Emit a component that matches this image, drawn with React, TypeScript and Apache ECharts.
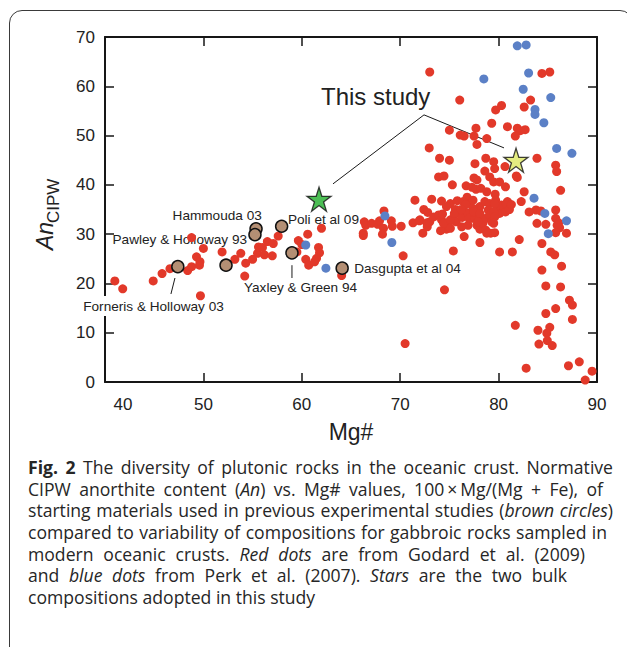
import React, { useEffect, useLayoutEffect, useRef } from "react";
import * as echarts from "echarts";

const FONT = '"Liberation Sans", Arial, Helvetica, sans-serif';

// Axis ranges (Mg# on x, normative An on y)
const mgRange = [40, 90];
const anRange = [0, 70];
const tickStep = 10;

// Gabbroic rocks, Godard et al. (2009): [Mg#, An]
const godardRed: number[][] = [
  [41.0, 20.5], [41.8, 18.9], [44.9, 20.5], [45.8, 22.0], [46.6, 23.0], [48.4, 22.6], [48.8, 23.4],
  [48.8, 29.3], [49.3, 25.4], [49.65, 24.4], [49.6, 23.7], [50.0, 27.1], [49.7, 17.5], [51.9, 26.4],
  [53.2, 24.9], [53.8, 26.1], [54.3, 24.1], [54.2, 21.5], [55.0, 24.9], [55.5, 26.1], [55.6, 27.4],
  [56.0, 27.3], [56.2, 25.8], [56.5, 28.5], [57.0, 25.6], [57.1, 28.1], [57.6, 29.6], [59.65, 28.7],
  [60.0, 27.9], [60.6, 30.0], [59.5, 26.4], [60.4, 24.9], [60.7, 23.7], [61.7, 27.3], [61.8, 26.2],
  [61.5, 25.1], [61.3, 24.4], [62.0, 31.2], [64.05, 21.6],
  [66.35, 32.5], [66.5, 31.8], [66.25, 30.2], [66.25, 29.7], [67.1, 32.2], [67.7, 32.0], [67.9, 32.7],
  [68.35, 34.7], [68.3, 31.2], [68.2, 30.0], [69.1, 32.7], [69.2, 31.6], [70.1, 31.6], [70.3, 25.6],
  [71.3, 32.3], [71.95, 32.7], [72.3, 30.2], [72.4, 35.0], [72.8, 34.4], [72.75, 31.5], [73.0, 32.5],
  [71.5, 36.9], [72.0, 32.9], [72.7, 32.3],
  [73.0, 62.9], [84.4, 62.6], [85.2, 62.9], [83.25, 57.2], [76.05, 57.2], [80.3, 56.1], [79.7, 55.2],
  [82.6, 55.8], [79.3, 52.5], [80.9, 51.8], [81.9, 51.5], [82.2, 51.0], [82.7, 51.2], [81.7, 49.9],
  [75.0, 51.1], [76.1, 50.1], [76.5, 49.9], [77.7, 51.5], [77.5, 49.9], [78.8, 49.4], [77.8, 48.2],
  [72.95, 47.5], [74.0, 45.4], [75.0, 45.0], [77.6, 44.3], [78.7, 45.4], [79.5, 44.7], [79.6, 43.3],
  [80.65, 43.7], [83.9, 45.4], [85.8, 44.0], [85.9, 42.7], [78.6, 42.8], [79.1, 41.6], [81.8, 41.8],
  [81.9, 41.5], [73.9, 41.6], [74.45, 41.8], [77.5, 41.4], [77.8, 41.0], [79.5, 40.6], [80.1, 40.6],
  [75.3, 40.0], [76.7, 39.8], [77.3, 39.5], [77.7, 39.1], [78.2, 39.3], [78.8, 38.6], [79.65, 38.1],
  [80.7, 39.6], [82.6, 38.6], [86.3, 38.9], [73.2, 37.1], [76.8, 37.5],
  [74.2, 36.7], [75.1, 36.2], [75.8, 36.8], [76.4, 36.6], [77.1, 36.2], [77.4, 36.9], [78.1, 35.6],
  [78.6, 36.6], [79.1, 36.2], [79.7, 36.9], [80.3, 35.9], [80.9, 36.6], [82.3, 36.6], [83.8, 34.9],
  [83.1, 34.5], [84.3, 34.7], [73.4, 33.5], [73.9, 33.9], [74.2, 32.9], [74.3, 34.1], [74.9, 32.2],
  [74.7, 31.0], [74.1, 30.7], [74.7, 35.6], [75.6, 35.0], [75.4, 33.2], [75.7, 32.5], [75.9, 34.2],
  [76.3, 33.4], [76.4, 34.9], [76.65, 36.0], [76.9, 34.3], [77.3, 33.2], [77.4, 35.2], [77.8, 31.8],
  [78.0, 33.0], [78.1, 31.0], [78.4, 32.2], [78.7, 33.2], [78.95, 34.9], [79.1, 33.9], [79.3, 32.5],
  [79.2, 30.2], [79.6, 30.3], [79.8, 35.2], [79.6, 36.2], [80.1, 34.2], [80.5, 35.6], [80.7, 34.5],
  [80.8, 36.1], [81.1, 35.0], [81.3, 36.0], [74.4, 32.2], [75.1, 32.9], [75.1, 31.2], [75.5, 34.2],
  [76.2, 35.0], [76.25, 31.5], [76.9, 31.8], [77.0, 33.2], [77.6, 33.2], [77.5, 34.5], [78.1, 34.2],
  [77.9, 32.5], [78.7, 30.8], [79.5, 34.5], [79.6, 33.5], [79.5, 32.2], [78.8, 30.2],
  [82.1, 28.9], [76.5, 29.5], [78.1, 28.3], [75.4, 26.6], [80.1, 26.4], [81.4, 26.4], [83.9, 32.2],
  [84.8, 32.0], [84.4, 28.1], [85.8, 34.9], [85.8, 33.2], [86.1, 32.3], [85.95, 31.8], [86.2, 31.3],
  [85.8, 30.3], [86.9, 30.2], [85.3, 26.4], [85.7, 25.8], [86.4, 23.5], [84.4, 22.7], [84.8, 19.5],
  [86.3, 19.3], [85.8, 14.9], [87.2, 16.6], [87.5, 15.6], [87.5, 12.7], [84.8, 13.9], [85.2, 11.1],
  [84.0, 10.5], [84.9, 9.9], [84.95, 8.4], [84.1, 7.7], [85.45, 7.4], [81.7, 11.5], [74.5, 18.7],
  [70.5, 7.8], [82.8, 2.8], [87.1, 3.3], [88.2, 4.1], [89.5, 2.2], [88.8, 0.4],
];

// Gabbroic rocks, Perk et al. (2007): [Mg#, An]
const perkBlue: number[][] = [
  [60.4, 27.8], [62.45, 23.1], [68.45, 33.7], [69.15, 28.3], [81.9, 68.2], [82.8, 68.4], [78.5, 61.5],
  [83.05, 62.7], [82.5, 59.4], [85.3, 57.7], [83.7, 55.3], [83.7, 54.3], [84.6, 52.6], [85.9, 47.4],
  [87.45, 46.4], [83.6, 37.3], [84.7, 34.2], [85.05, 30.1], [86.9, 32.7],
];

// Starting materials of earlier experimental studies: [Mg#, An]
const experimentBrown: number[][] = [
  [47.4, 23.4], [52.3, 23.7], [55.35, 31.1], [55.24, 29.9], [57.95, 31.6], [59.0, 26.2], [64.1, 23.1],
];

// Bulk compositions adopted in this study: [Mg#, An]
const studyStars: number[][] = [
  [61.75, 37.1], [81.77, 45.0],
];
const starColors = ["#1fae2b", "#dde862"];

// Annotations anchored in data units: [Mg#, An]
const noteTexts = [
  "This study",
  "Hammouda 03",
  "Pawley & Holloway 93",
  "Forneris & Holloway 03",
  "Poli et al 09",
  "Yaxley & Green 94",
  "Dasgupta et al 04",
];
const notePos: number[][] = [
  [61.95, 58.0], [51.4, 33.7], [47.6, 28.9], [44.93, 15.4], [62.2, 32.9], [59.87, 19.1], [70.74, 23.1],
];
const noteAlign = ["left", "center", "center", "center", "center", "center", "center"];
// the Forneris label sits across the left frame and blanks it out
const noteBoxed = [false, false, false, true, false, false, false];

// Leader lines: [x1, y1, x2, y2]
const leaderLines: number[][] = [
  [72.42, 54.2, 63.17, 40.2],
  [72.42, 54.2, 80.55, 47.5],
  [47.11, 21.1, 46.7, 17.85],
  [59.0, 23.7, 59.0, 21.1],
];

// Caption, one entry per printed line; w is the justified line width (0 = ragged last line)
const captionLines: { w: number; parts: { t: string; s?: "b" | "i" }[] }[] = [
  { w: 585, parts: [{ t: "Fig. 2", s: "b" }, { t: " The diversity of plutonic rocks in the oceanic crust. Normative" }] },
  { w: 575, parts: [{ t: "CIPW anorthite content (" }, { t: "An", s: "i" }, { t: ") vs. Mg# values, 100\u2009×\u2009Mg/(Mg + Fe), of" }] },
  { w: 585, parts: [{ t: "starting materials used in previous experimental studies (" }, { t: "brown circles", s: "i" }, { t: ")" }] },
  { w: 579, parts: [{ t: "compared to variability of compositions for gabbroic rocks sampled in" }] },
  { w: 557, parts: [{ t: "modern oceanic crusts. " }, { t: "Red dots", s: "i" }, { t: " are from Godard et al. (2009)" }] },
  { w: 539, parts: [{ t: "and " }, { t: "blue dots", s: "i" }, { t: " from Perk et al. (2007). " }, { t: "Stars", s: "i" }, { t: " are the two bulk" }] },
  { w: 0, parts: [{ t: "compositions adopted in this study" }] },
];

const STAR =
  "path://M50,2 L61.2,36.5 L97.6,36.5 L68.2,57.8 L79.4,92.4 L50,71 L20.6,92.4 L31.8,57.8 L2.4,36.5 L38.8,36.5 Z";

const AXIS_COLOR = "#161616";
const TEXT_COLOR = "#222";

function frameAxis(extra: any) {
  return {
    type: "value",
    splitLine: { show: false },
    axisLine: { show: true, onZero: false, lineStyle: { color: AXIS_COLOR, width: 2 } },
    axisTick: { show: true, inside: true, length: 9, lineStyle: { color: AXIS_COLOR, width: 1.5 } },
    ...extra,
  };
}

function buildOption() {
  const labelBase = { fontSize: 17, color: TEXT_COLOR, fontFamily: FONT };
  return {
    animation: false,
    grid: { left: 105, right: 30, top: 37, bottom: 265 },
    xAxis: [
      frameAxis({
        min: mgRange[0], max: mgRange[1], interval: tickStep, position: "bottom",
        axisLabel: {
          ...labelBase, margin: 14,
          formatter: (v: number) => (v === mgRange[0] ? `{s|${v}}` : `${v}`),
          rich: { s: { ...labelBase, padding: [0, 0, 0, 36] } },
        },
        name: "Mg#", nameLocation: "middle", nameGap: 38,
        nameTextStyle: { fontSize: 23, color: TEXT_COLOR, fontFamily: FONT },
      }),
      frameAxis({
        min: mgRange[0], max: mgRange[1], interval: tickStep, position: "top",
        axisLabel: { show: false },
      }),
    ],
    yAxis: [
      frameAxis({
        min: anRange[0], max: anRange[1], interval: tickStep, position: "left",
        axisLabel: { ...labelBase, margin: 10 },
      }),
      frameAxis({
        min: anRange[0], max: anRange[1], interval: tickStep, position: "right",
        axisLabel: { show: false },
      }),
    ],
    graphic: [
      {
        type: "group", x: 56, y: 250, rotation: Math.PI / 2,
        children: [
          { type: "text", x: 0, y: 0, style: { text: "An", font: `italic 23px ${FONT}`, fill: TEXT_COLOR, verticalAlign: "bottom" } },
          { type: "text", x: 27, y: 6, style: { text: "CIPW", font: `17px ${FONT}`, fill: TEXT_COLOR, verticalAlign: "bottom" } },
        ],
      },
    ],
    series: [
      {
        type: "custom", data: notePos.map((p, i) => [p[0], p[1], i]), encode: { x: 0, y: 1 }, clip: false, silent: true,
        renderItem: (_p: any, api: any) => {
          const i = api.value(2);
          const c = api.coord([api.value(0), api.value(1)]);
          return {
            type: "text", x: c[0], y: c[1],
            style: {
              text: noteTexts[i],
              font: `${i === 0 ? 24 : 13.6}px ${FONT}`,
              fill: TEXT_COLOR,
              align: noteAlign[i],
              verticalAlign: "middle",
              backgroundColor: noteBoxed[i] ? "#fff" : undefined,
              padding: noteBoxed[i] ? [3, 2, 3, 2] : undefined,
            },
          };
        },
      },
      {
        type: "scatter", data: godardRed, symbolSize: 9,
        itemStyle: { color: "#e2392a", opacity: 1 },
      },
      {
        type: "scatter", data: perkBlue, symbolSize: 9,
        itemStyle: { color: "#5b80c6", opacity: 1 },
      },
      {
        type: "scatter", data: experimentBrown, symbolSize: 12,
        itemStyle: { color: "#b48f74", borderColor: "#111", borderWidth: 1.5, opacity: 1 },
      },
      {
        type: "custom", data: leaderLines, encode: { x: [0, 2], y: [1, 3] }, clip: false, silent: true,
        renderItem: (_p: any, api: any) => {
          const a = api.coord([api.value(0), api.value(1)]);
          const b = api.coord([api.value(2), api.value(3)]);
          return {
            type: "line",
            shape: { x1: a[0], y1: a[1], x2: b[0], y2: b[1] },
            style: { stroke: "#1a1a1a", lineWidth: 1 },
          };
        },
      },
      {
        type: "scatter",
        data: studyStars.map((p, i) => ({
          value: p,
          itemStyle: { color: starColors[i], borderColor: "#111", borderWidth: 1.3 },
        })),
        symbol: STAR, symbolSize: 24,
      },
    ],
  };
}

export default function App() {
  const ref = useRef<HTMLDivElement>(null);
  const lineRefs = useRef<(HTMLSpanElement | null)[]>([]);

  useEffect(() => {
    if (!ref.current) return;
    const chart = echarts.init(ref.current, null, { renderer: "svg" });
    chart.setOption(buildOption() as any);
    return () => chart.dispose();
  }, []);

  // Justify each caption line to its own width by spreading the word gaps
  useLayoutEffect(() => {
    captionLines.forEach((line, i) => {
      const el = lineRefs.current[i];
      if (!el || !line.w) return;
      el.style.wordSpacing = "0px";
      const natural = el.getBoundingClientRect().width;
      const gaps = line.parts.map((p) => p.t).join("").split(" ").length - 1;
      if (gaps > 0) el.style.wordSpacing = `${(line.w - natural) / gaps}px`;
    });
  }, []);

  return (
    <div style={{ position: "fixed", left: 0, top: 0, width: 627, height: 647, background: "#fff", overflow: "hidden" }}>
      <div
        style={{
          position: "absolute", left: 9, top: 10, width: 624, height: 680,
          border: "1.5px solid #3a3a3a", borderRadius: 13, boxSizing: "border-box",
        }}
      />
      <div ref={ref} style={{ position: "absolute", left: 0, top: 0, width: 627, height: 647 }} />
      <div
        style={{
          position: "absolute", left: 28, top: 457, fontFamily: '"Open Sans", sans-serif',
          fontSize: 17.6, lineHeight: "21.67px", color: "#262626",
        }}
      >
        {captionLines.map((line, li) => (
          <div key={li} style={{ whiteSpace: "nowrap" }}>
            <span
              ref={(el) => {
                lineRefs.current[li] = el;
              }}
              style={{ display: "inline-block" }}
            >
              {line.parts.map((p, pi) =>
                p.s === "b" ? <b key={pi}>{p.t}</b> : p.s === "i" ? <i key={pi}>{p.t}</i> : <span key={pi}>{p.t}</span>
              )}
            </span>
          </div>
        ))}
      </div>
    </div>
  );
}
